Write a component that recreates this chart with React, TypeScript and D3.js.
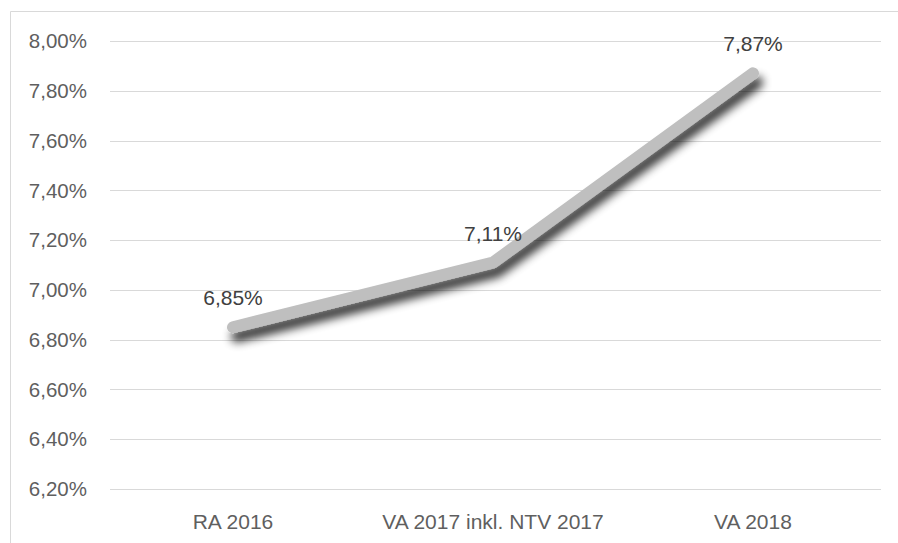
import { useEffect, useRef } from "react";
import * as d3 from "d3";

const categories = ["RA 2016", "VA 2017 inkl. NTV 2017", "VA 2018"];
const values = [6.85, 7.11, 7.87];
const yTicks = [6.2, 6.4, 6.6, 6.8, 7.0, 7.2, 7.4, 7.6, 7.8, 8.0];

const fmt = (v: number) => v.toFixed(2).replace(".", ",") + "%";

export default function App() {
  const svgRef = useRef<SVGSVGElement>(null);

  useEffect(() => {
    if (!svgRef.current) return;
    const svg = d3.select(svgRef.current);
    svg.selectAll("*").remove();

    const width = 898;
    const height = 543;
    const font = "'Liberation Sans', Arial, sans-serif";

    const x = d3.scalePoint<string>().domain(categories).range([233, 753]);
    const y = d3.scaleLinear().domain([6.2, 8.0]).range([489, 41]);

    const defs = svg.append("defs");
    const f = defs
      .append("filter")
      .attr("id", "shadow")
      .attr("x", "-20%")
      .attr("y", "-20%")
      .attr("width", "140%")
      .attr("height", "140%");
    f.append("feGaussianBlur").attr("in", "SourceAlpha").attr("stdDeviation", 5).attr("result", "b");
    f.append("feOffset").attr("in", "b").attr("dx", 4).attr("dy", 9).attr("result", "o");
    f.append("feComponentTransfer")
      .attr("in", "o")
      .attr("result", "s")
      .append("feFuncA")
      .attr("type", "linear")
      .attr("slope", 0.8);
    const m = f.append("feMerge");
    m.append("feMergeNode").attr("in", "s");
    m.append("feMergeNode").attr("in", "SourceGraphic");

    svg.append("rect").attr("width", width).attr("height", height).attr("fill", "#fff");

    // border
    svg
      .append("path")
      .attr("d", `M10.5,${height} V11.5 H${width}`)
      .attr("fill", "none")
      .attr("stroke", "#d9d9d9")
      .attr("stroke-width", 1);

    // grid
    svg
      .append("g")
      .selectAll("line")
      .data(yTicks)
      .enter()
      .append("line")
      .attr("x1", 110)
      .attr("x2", 881)
      .attr("y1", (d) => Math.round(y(d)) + 0.5)
      .attr("y2", (d) => Math.round(y(d)) + 0.5)
      .attr("stroke", "#d9d9d9")
      .attr("stroke-width", 1);

    // y labels
    svg
      .append("g")
      .selectAll("text")
      .data(yTicks)
      .enter()
      .append("text")
      .attr("x", 87)
      .attr("y", (d) => y(d))
      .attr("dy", "0.35em")
      .attr("text-anchor", "end")
      .attr("font-family", font)
      .attr("font-size", 20.5)
      .attr("fill", "#5f5f5f")
      .text((d) => fmt(d));

    // x labels
    svg
      .append("g")
      .selectAll("text")
      .data(categories)
      .enter()
      .append("text")
      .attr("x", (d) => x(d)!)
      .attr("y", 529)
      .attr("text-anchor", "middle")
      .attr("font-family", font)
      .attr("font-size", 21)
      .attr("fill", "#5f5f5f")
      .text((d) => d);

    const pts = categories.map((c, i) => [x(c)!, y(values[i])] as [number, number]);
    const line = d3.line();

    svg
      .append("path")
      .attr("d", line(pts))
      .attr("fill", "none")
      .attr("stroke", "#bfbfbf")
      .attr("stroke-width", 12)
      .attr("stroke-linecap", "round")
      .attr("stroke-linejoin", "round")
      .attr("filter", "url(#shadow)");

    svg
      .append("g")
      .selectAll("text")
      .data(values)
      .enter()
      .append("text")
      .attr("x", (_, i) => pts[i][0])
      .attr("y", (_, i) => pts[i][1] - 22)
      .attr("text-anchor", "middle")
      .attr("font-family", font)
      .attr("font-size", 21)
      .attr("fill", "#404040")
      .text((d) => fmt(d));
  }, []);

  return (
    <svg
      ref={svgRef}
      width={898}
      height={543}
      style={{ position: "absolute", left: 0, top: 0, display: "block" }}
    />
  );
}
